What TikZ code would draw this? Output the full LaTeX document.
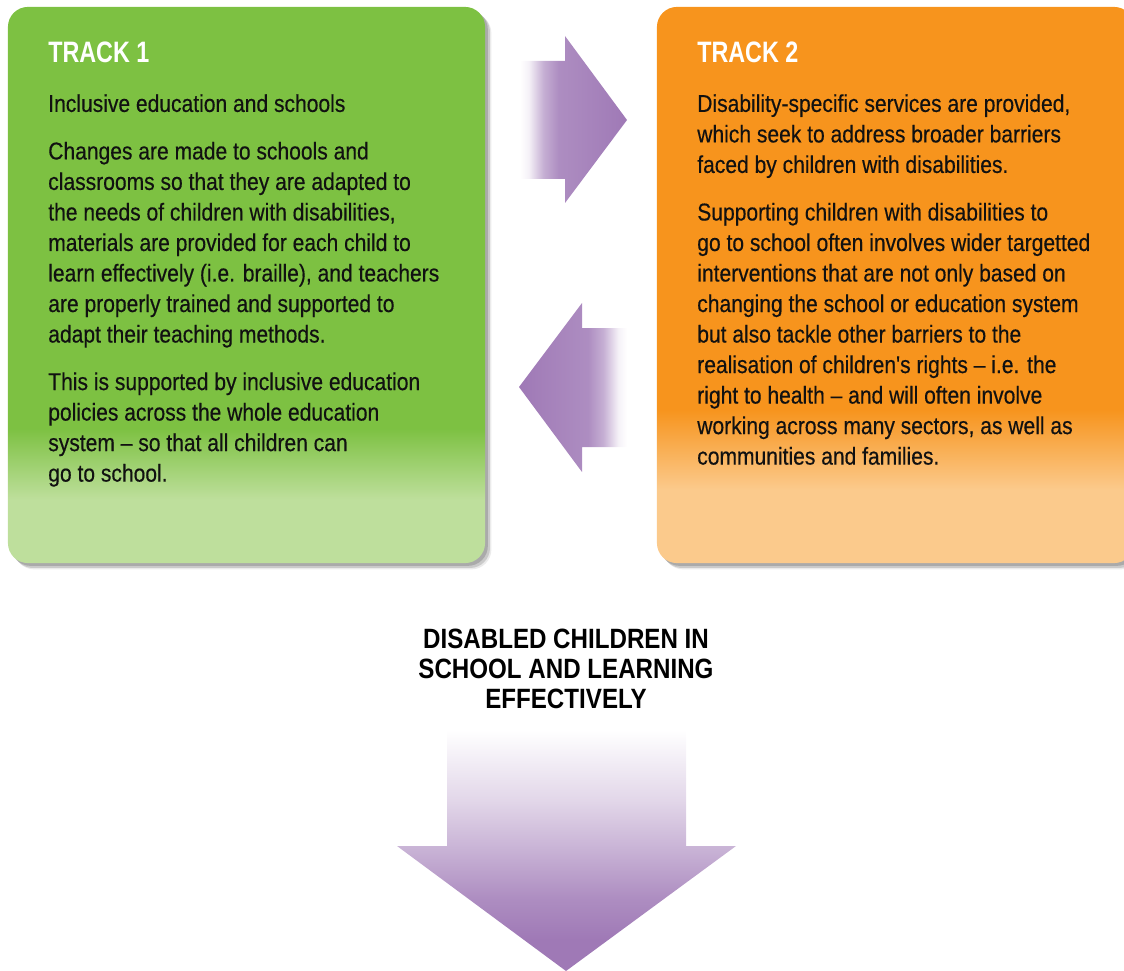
\documentclass[tikz,border=0pt]{standalone}
\usepackage{fontspec}
\setmainfont{Liberation Sans}
\newfontfamily\bodyfont[FakeStretch=0.865, FakeBold=0.35]{Liberation Sans}
\newfontfamily\headfont[FakeStretch=0.79]{Liberation Sans}
\newfontfamily\goalfont[FakeStretch=0.865]{Liberation Sans}
\usetikzlibrary{shadows}

\definecolor{trackgreen}{HTML}{7DC142}
\definecolor{trackgreenlight}{HTML}{BEDF9C}
\definecolor{trackorange}{HTML}{F7941D}
\definecolor{trackorangelight}{HTML}{FBCA8C}
\definecolor{arrowpurple}{HTML}{9F79B6}
\definecolor{bodyblack}{HTML}{111111}

% box fills: flat top colour, short fade to the light colour near the bottom
\pgfdeclareverticalshading{greenfade}{100bp}{color(0bp)=(trackgreenlight); color(25bp)=(trackgreenlight); color(30.7bp)=(trackgreenlight); color(37.1bp)=(trackgreen); color(100bp)=(trackgreen)}
\pgfdeclareverticalshading{orangefade}{100bp}{color(0bp)=(trackorangelight); color(25bp)=(trackorangelight); color(31.6bp)=(trackorangelight); color(38.8bp)=(trackorange); color(100bp)=(trackorange)}
% arrow fills
\pgfdeclarehorizontalshading{rightfade}{100bp}{color(0bp)=(white); color(25bp)=(white); color(29bp)=(arrowpurple!10); color(36bp)=(arrowpurple!60); color(43bp)=(arrowpurple!85); color(75bp)=(arrowpurple); color(100bp)=(arrowpurple)}
\pgfdeclarehorizontalshading{leftfade}{100bp}{color(0bp)=(arrowpurple); color(25bp)=(arrowpurple); color(57bp)=(arrowpurple!85); color(64bp)=(arrowpurple!60); color(71bp)=(arrowpurple!10); color(75bp)=(white); color(100bp)=(white)}
\pgfdeclareverticalshading{downfade}{100bp}{color(0bp)=(arrowpurple); color(25bp)=(arrowpurple); color(31.5bp)=(arrowpurple); color(40bp)=(arrowpurple!85); color(51bp)=(arrowpurple!55); color(60.5bp)=(arrowpurple!30); color(75bp)=(white); color(100bp)=(white)}

\tikzset{
	trackbox/.style={rounded corners=20*0.025cm, minimum width=11.925cm, minimum height=13.9cm, inner sep=0pt,
		drop shadow={shadow xshift=4.5pt, shadow yshift=-4.5pt, opacity=.08, fill=black},
		drop shadow={shadow xshift=3.5pt, shadow yshift=-3.5pt, opacity=.14, fill=black},
		drop shadow={shadow xshift=2pt, shadow yshift=-2pt, opacity=.25, fill=black!70}},
	tracktitle/.style={anchor=north west, inner sep=0pt, text=white, font=\headfont\bfseries\fontsize{21}{25}\selectfont},
	tracktext/.style={anchor=north west, inner sep=0pt, align=left, text=bodyblack, font=\bodyfont\fontsize{17.3}{21.7}\selectfont},
	goaltext/.style={anchor=north, inner sep=0pt, align=center, text=black, font=\goalfont\bfseries\fontsize{19.85}{21.3}\selectfont},
	bigarrow/.style={draw=none}
}

\begin{document}
\begin{tikzpicture}[x=0.025cm, y=-0.025cm]
	\useasboundingbox (0,0) rectangle (1124,971);
	% Track 1
	\node[trackbox, shading=greenfade] (box1) at (246.5,285) {};
	\node[tracktitle] (title1) at (48,41.8) {TRACK 1};
	\node[tracktext] (text1) at (48,94) {Inclusive education and schools\\[12.1pt]
		Changes are made to schools and\\
		classrooms so that they are adapted to\\
		the needs of children with disabilities,\\
		materials are provided for each child to\\
		learn effectively (i.e. braille), and teachers\\
		are properly trained and supported to\\
		adapt their teaching methods.\\[12.1pt]
		This is supported by inclusive education\\
		policies across the whole education\\
		system – so that all children can\\
		go to school.};
	% Track 2
	\node[trackbox, shading=orangefade] (box2) at (895.5,285) {};
	\node[tracktitle] (title2) at (697,41.8) {TRACK 2};
	\node[tracktext] (text2) at (697,94) {Disability-specific services are provided,\\
		which seek to address broader barriers\\
		faced by children with disabilities.\\[12.1pt]
		Supporting children with disabilities to\\
		go to school often involves wider targetted\\
		interventions that are not only based on\\
		changing the school or education system\\
		but also tackle other barriers to the\\
		realisation of children's rights – i.e. the\\
		right to health – and will often involve\\
		working across many sectors, as well as\\
		communities and families.};
	% arrows between the tracks
	\path[bigarrow, shading=rightfade] (520,61) -- (565,61) -- (565,36) -- (627,120) -- (565,203) -- (565,179) -- (520,179) -- cycle;
	\path[bigarrow, shading=leftfade] (519,387) -- (582,303) -- (582,328) -- (627,328) -- (627,447) -- (582,447) -- (582,472) -- cycle;
	% outcome
	\node[goaltext] (goal) at (566,629) {DISABLED CHILDREN IN\\ SCHOOL AND LEARNING\\ EFFECTIVELY};
	\path[bigarrow, shading=downfade] (447,730) -- (686,730) -- (686,846) -- (736,846) -- (566,971) -- (397,846) -- (447,846) -- cycle;
\end{tikzpicture}
\end{document}
